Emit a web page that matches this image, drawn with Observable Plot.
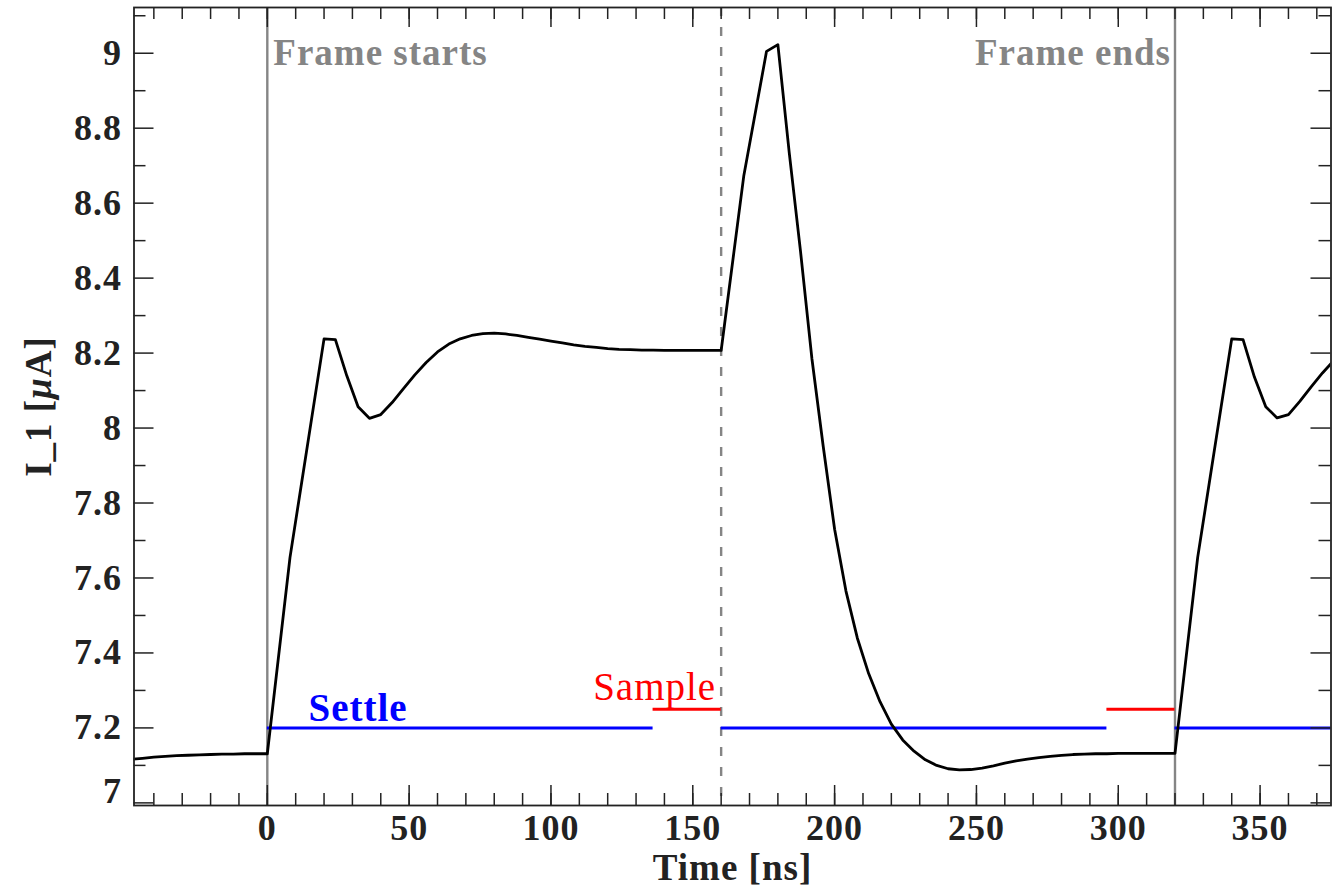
<!DOCTYPE html>
<html><head><meta charset="utf-8">
<script src="https://cdn.jsdelivr.net/npm/d3@7"></script>
<script src="https://cdn.jsdelivr.net/npm/@observablehq/plot@0.6"></script>
<style>body{margin:0;background:#fff;}</style>
</head><body><div id="chart"></div>
<script>
// ---- data ----
const time = [-48,-44,-40,-36,-32,-28,-24,-20,-16,-12,-8,-4,0,8,20,24,28,32,36,40,44,48,52,56,60,64,68,72,76,80,84,88,92,96,100,104,108,112,116,120,124,128,132,136,140,144,148,152,156,160,168,176,180,184,188,192,196,200,204,208,212,216,220,224,228,232,236,240,244,248,252,256,260,264,268,272,276,280,284,288,292,296,300,304,308,312,316,320,328,340,344,348,352,356,360,364,368,372,376];
const current = [7.116,7.119,7.122,7.124,7.126,7.127,7.128,7.129,7.130,7.130,7.131,7.131,7.131,7.655,8.238,8.236,8.140,8.057,8.026,8.036,8.068,8.105,8.142,8.175,8.203,8.224,8.238,8.247,8.252,8.253,8.251,8.247,8.242,8.237,8.232,8.227,8.222,8.218,8.215,8.212,8.210,8.209,8.208,8.208,8.207,8.207,8.207,8.207,8.207,8.207,8.674,9.005,9.023,8.735,8.470,8.185,7.950,7.730,7.565,7.440,7.345,7.270,7.210,7.168,7.138,7.115,7.100,7.091,7.088,7.089,7.093,7.099,7.106,7.112,7.117,7.121,7.124,7.127,7.129,7.130,7.131,7.131,7.132,7.132,7.132,7.132,7.132,7.132,7.655,8.238,8.236,8.136,8.057,8.027,8.036,8.071,8.110,8.147,8.180];

const frameEdges = [0, 320];      // solid gray lines
const frameMiddle = [160];        // dashed gray line
const settleStart = [0, 160, 320];
const settleEnd   = [136, 296, 380];
const sampleStart = [136, 296];
const sampleEnd   = [160, 320];
const settleLevel = 7.2;
const sampleLevel = 7.25;

const xMajorTicks = [0,50,100,150,200,250,300,350];
const xMinorTicks = [-40,-30,-20,-10,0,10,20,30,40,50,60,70,80,90,100,110,120,130,140,150,160,170,180,190,200,210,220,230,240,250,260,270,280,290,300,310,320,330,340,350,360,370];
const yMajorTicks = [7,7.2,7.4,7.6,7.8,8,8.2,8.4,8.6,8.8,9];
const yMinorTicks = [7.1,7.3,7.5,7.7,7.9,8.1,8.3,8.5,8.7,8.9,9.1];

const annotText = ["Frame starts", "Frame ends"];
const annotX = [0, 320];
const annotY = [9, 9];

// ---- build ----
const series = time.map((t, i) => ({t, v: current[i]}));
const settle = settleStart.map((s, i) => ({s, e: settleEnd[i]}));
const sample = sampleStart.map((s, i) => ({s, e: sampleEnd[i]}));

const W = 1337, H = 888;
const mL = 133.5, mR = 6.5, mT = 7, mB = 83;
const iW = W - mL - mR, iH = H - mT - mB;
const major = 20, minor = 12;
const tickColor = "#222";
const gray = "#858585";
const FONT = "'Liberation Serif', 'Times New Roman', serif";

const plot = Plot.plot({
  width: W, height: H,
  marginLeft: mL, marginRight: mR, marginTop: mT, marginBottom: mB,
  style: `font-family:${FONT};font-weight:bold;font-size:36px;letter-spacing:1px;background:#fff;`,
  x: {domain: [-47, 375]},
  y: {domain: [6.993, 9.122]},
  marks: [
    // frame-position lines
    Plot.ruleX(frameEdges, {x: d => d, stroke: gray, strokeWidth: 2.4}),
    Plot.ruleX(frameMiddle, {x: d => d, stroke: gray, strokeWidth: 2.4, strokeDasharray: "9,11"}),
    // settle / sample windows
    Plot.ruleY(settle, {y: settleLevel, x1: "s", x2: "e", stroke: "#0000ff", strokeWidth: 3, clip: true}),
    Plot.ruleY(sample, {y: sampleLevel, x1: "s", x2: "e", stroke: "#ff0000", strokeWidth: 3, clip: true}),
    // current trace
    Plot.line(series, {x: "t", y: "v", stroke: "#000", strokeWidth: 2.8, clip: true}),
    // inward ticks, all four sides
    Plot.ruleX(xMinorTicks, {x: d => d, insetTop: iH - minor, stroke: tickColor, strokeWidth: 1.5}),
    Plot.ruleX(xMajorTicks, {x: d => d, insetTop: iH - major, stroke: tickColor, strokeWidth: 1.5}),
    Plot.ruleX(xMinorTicks, {x: d => d, insetBottom: iH - minor, stroke: tickColor, strokeWidth: 1.5}),
    Plot.ruleX(xMajorTicks, {x: d => d, insetBottom: iH - major, stroke: tickColor, strokeWidth: 1.5}),
    Plot.ruleY(yMinorTicks, {y: d => d, insetRight: iW - minor, stroke: tickColor, strokeWidth: 1.5}),
    Plot.ruleY(yMajorTicks, {y: d => d, insetRight: iW - major, stroke: tickColor, strokeWidth: 1.5}),
    Plot.ruleY(yMinorTicks, {y: d => d, insetLeft: iW - minor, stroke: tickColor, strokeWidth: 1.5}),
    Plot.ruleY(yMajorTicks, {y: d => d, insetLeft: iW - major, stroke: tickColor, strokeWidth: 1.5}),
    Plot.frame({stroke: tickColor, strokeWidth: 1.8}),
    // tick labels
    Plot.axisX(xMajorTicks, {anchor: "bottom", tickSize: 0, tickPadding: 9, tickFormat: d => `${d}`, label: null, fill: tickColor, fontSize: 36, fontWeight: "bold"}),
    Plot.axisY(yMajorTicks.filter(d => d !== 7), {anchor: "left", tickSize: 0, tickPadding: 12, tickFormat: d => `${d}`, label: null, fill: tickColor, fontSize: 36, fontWeight: "bold"}),
    Plot.axisY([7], {anchor: "left", tickSize: 0, tickPadding: 12, tickFormat: d => `${d}`, label: null, fill: tickColor, fontSize: 36, fontWeight: "bold", dy: -11}),
    // axis titles
    Plot.text(["Time [ns]"], {frameAnchor: "bottom", lineAnchor: "middle", textAnchor: "middle", dy: 63, fill: tickColor, fontSize: 37, fontWeight: "bold"}),
    Plot.text(["I_1 [μA]"], {frameAnchor: "left", textAnchor: "middle", lineAnchor: "middle", dx: -95, rotate: -90, fill: tickColor, fontSize: 37, fontWeight: "bold"}),
    // annotations
    Plot.text([0], {x: d => annotX[d], y: d => annotY[d], text: d => annotText[d], textAnchor: "start", dx: 6, fill: gray, fontSize: 37, fontWeight: "bold"}),
    Plot.text([1], {x: d => annotX[d], y: d => annotY[d], text: d => annotText[d], textAnchor: "end", dx: -4, fill: gray, fontSize: 37, fontWeight: "bold"}),
    Plot.text(["Settle"], {x: 32, y: 7.252, fill: "#0000ff", fontSize: 39, fontWeight: "bold"}),
    Plot.text(["Sample"], {x: 160, y: 7.308, textAnchor: "end", dx: -5, fill: "#ff0000", fontSize: 39, fontWeight: "normal"})
  ]
});

// italic mu in the y-axis title
plot.querySelectorAll("text").forEach(t => {
  if (t.textContent === "I_1 [μA]") {
    const ns = "http://www.w3.org/2000/svg";
    while (t.firstChild) t.removeChild(t.firstChild);
    [["I_1 [", null], ["μ", "italic"], ["A]", null]].forEach(([s, st]) => {
      const ts = document.createElementNS(ns, "tspan");
      ts.textContent = s;
      if (st) ts.setAttribute("font-style", st);
      t.appendChild(ts);
    });
  }
});

document.getElementById("chart").appendChild(plot);
</script>
</body></html>
